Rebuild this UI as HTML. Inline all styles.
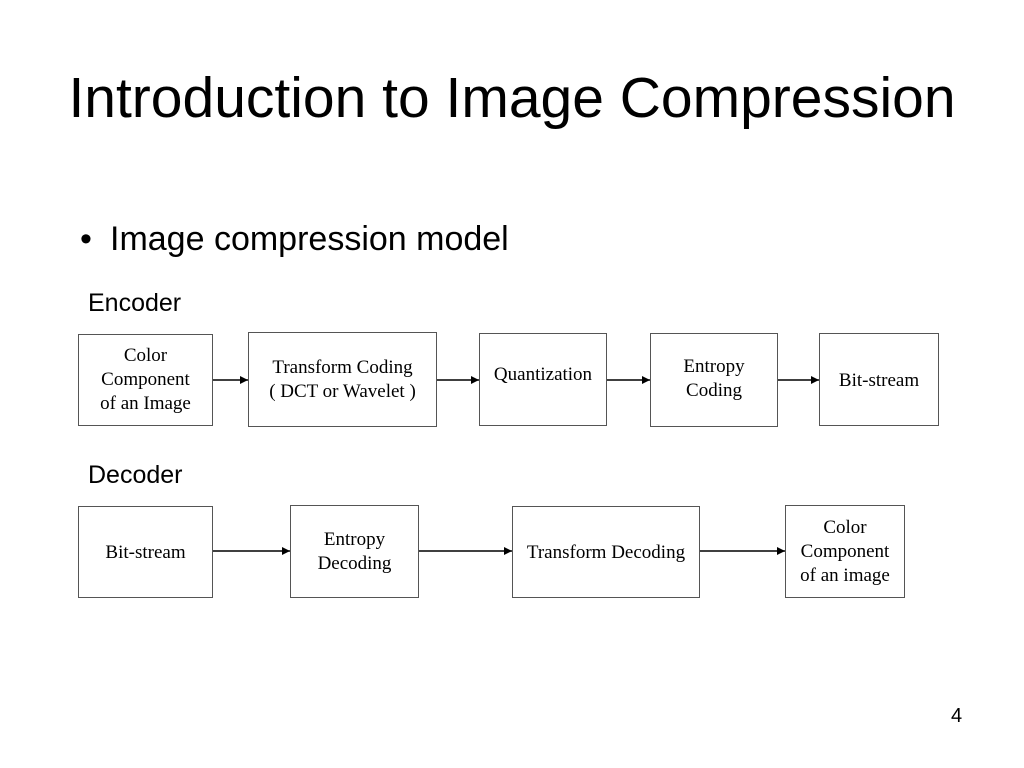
<!DOCTYPE html>
<html><head><meta charset="utf-8"><style>
html,body{margin:0;padding:0;background:#fff;}
body{width:1024px;height:768px;position:relative;overflow:hidden;font-family:"Liberation Sans",sans-serif;color:#000;}
.t{position:absolute;white-space:nowrap;}
.b{position:absolute;border:1.5px solid #555;box-sizing:border-box;display:flex;align-items:center;justify-content:center;text-align:center;font-family:"Liberation Serif",serif;font-size:19px;line-height:24px;}
</style></head><body>
<div class="t" style="left:0;width:1024px;text-align:center;top:64px;font-size:57px;line-height:68px;">Introduction to Image Compression</div>
<div class="t" style="left:80px;top:219px;font-size:34px;line-height:40px;">•</div>
<div class="t" style="left:110px;top:219px;font-size:34px;line-height:40px;">Image compression model</div>
<div class="t" style="left:88px;top:288px;font-size:25px;line-height:30px;">Encoder</div>
<div class="t" style="left:88px;top:460px;font-size:25px;line-height:30px;">Decoder</div>
<div class="t" style="left:951px;top:705px;font-size:20px;">4</div>

<div class="b" style="left:78px;top:334px;width:135px;height:92px;">Color<br>Component<br>of an Image</div>
<div class="b" style="left:248px;top:332px;width:189px;height:95px;">Transform Coding<br>( DCT or Wavelet )</div>
<div class="b" style="left:479px;top:333px;width:128px;height:93px;padding-bottom:10px;">Quantization</div>
<div class="b" style="left:650px;top:333px;width:128px;height:94px;padding-bottom:2px;">Entropy<br>Coding</div>
<div class="b" style="left:819px;top:333px;width:120px;height:93px;padding-top:2px;">Bit-stream</div>

<div class="b" style="left:78px;top:506px;width:135px;height:92px;padding-top:2px;">Bit-stream</div>
<div class="b" style="left:290px;top:505px;width:129px;height:93px;">Entropy<br>Decoding</div>
<div class="b" style="left:512px;top:506px;width:188px;height:92px;padding-top:2px;">Transform Decoding</div>
<div class="b" style="left:785px;top:505px;width:120px;height:93px;">Color<br>Component<br>of an image</div>

<svg width="1024" height="768" style="position:absolute;left:0;top:0;">
<defs><marker id="a" markerWidth="8" markerHeight="8" refX="8" refY="4" orient="auto" markerUnits="userSpaceOnUse"><path d="M0,0 L8,4 L0,8z" fill="#000"/></marker></defs>
<g stroke="#000" stroke-width="1.5" marker-end="url(#a)">
<line x1="213" y1="380" x2="248" y2="380"/>
<line x1="437" y1="380" x2="479" y2="380"/>
<line x1="607" y1="380" x2="650" y2="380"/>
<line x1="778" y1="380" x2="819" y2="380"/>
<line x1="213" y1="551" x2="290" y2="551"/>
<line x1="419" y1="551" x2="512" y2="551"/>
<line x1="700" y1="551" x2="785" y2="551"/>
</g></svg>
</body></html>
